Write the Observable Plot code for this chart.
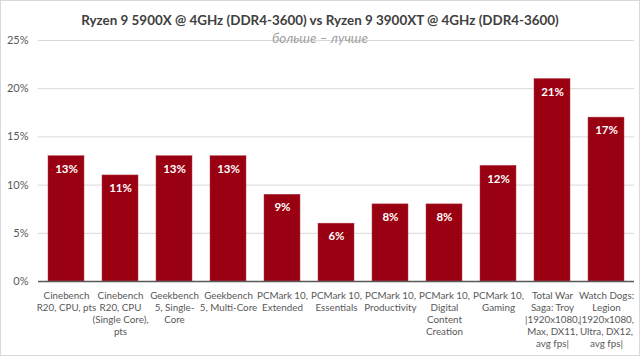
<!DOCTYPE html>
<html>
<head>
<meta charset="utf-8">
<script src="https://cdn.jsdelivr.net/npm/d3@7"></script>
<script src="https://cdn.jsdelivr.net/npm/@observablehq/plot@0.6"></script>
<style>
  html, body { margin: 0; padding: 0; background: #fff; }
  #wrap { position: relative; width: 640px; height: 356px; overflow: hidden; font-family: Lato, "Open Sans", sans-serif; }
  #wrap svg { position: absolute; left: 0; top: 0; }
  #title { position: absolute; left: 0; width: 640px; top: 12px; text-align: center; font-weight: bold; font-size: 13.4px; color: #404040; z-index: 2; }
  #subtitle { position: absolute; left: 0; width: 640px; top: 30px; text-align: center; font-style: italic; font-size: 13.5px; color: #a0a0a0; z-index: 2; }
  #border { position: absolute; left: 0; top: 0; width: 640px; height: 356px; box-sizing: border-box; border: 1px solid #d9d9d9; z-index: 3; pointer-events: none; }
</style>
</head>
<body>
<div id="wrap">
  <div id="title"></div>
  <div id="subtitle"></div>
  <div id="border"></div>
</div>
<script>
const titleText = "Ryzen 9 5900X @ 4GHz (DDR4-3600) vs Ryzen 9 3900XT @ 4GHz (DDR4-3600)";
const subtitleText = "больше – лучше";
const categories = [
  "Cinebench\nR20, CPU, pts",
  "Cinebench\nR20, CPU\n(Single Core),\npts",
  "Geekbench\n5, Single-\nCore",
  "Geekbench\n5, Multi-Core",
  "PCMark 10,\nExtended",
  "PCMark 10,\nEssentials",
  "PCMark 10,\nProductivity",
  "PCMark 10,\nDigital\nContent\nCreation",
  "PCMark 10,\nGaming",
  "Total War\nSaga: Troy\n|1920x1080,\nMax, DX11,\navg fps|",
  "Watch Dogs:\nLegion\n|1920x1080,\nUltra, DX12,\navg fps|"
];
const values = [13, 11, 13, 13, 9, 6, 8, 8, 12, 21, 17];
const yTicks = [0, 5, 10, 15, 20, 25];

document.getElementById("title").textContent = titleText;
document.getElementById("subtitle").textContent = subtitleText;

const data = categories.map((c, i) => ({category: c, value: values[i]}));

const chart = Plot.plot({
  width: 640,
  height: 356,
  marginTop: 40,
  marginBottom: 75,
  marginLeft: 38,
  marginRight: 6,
  style: {fontFamily: "Lato, 'Open Sans', sans-serif", fontSize: "11px", color: "#595959", background: "transparent"},
  x: {domain: categories, paddingInner: 0.33, paddingOuter: 0.165, label: null},
  y: {domain: [0, 25], label: null},
  marks: [
    Plot.gridY(yTicks, {stroke: "#d9d9d9", strokeOpacity: 1, strokeWidth: 1}),
    Plot.axisY(yTicks, {tickSize: 0, tickPadding: 10, tickFormat: d => d + "%", fill: "#595959", fontSize: 11, label: null}),
    Plot.axisX({tickSize: 0, tickPadding: 9, fill: "#595959", fontSize: 9.8, lineHeight: 1.22, label: null}),
    Plot.barY(data, {x: "category", y: "value", fill: "#990011", stroke: "#b5404a", strokeWidth: 0.5}),
    Plot.ruleY([0], {stroke: "#595959", strokeWidth: 1.5}),
    Plot.text(data, {x: "category", y: "value", text: d => d.value + "%", dy: 13, fill: "#ffffff", fontWeight: "bold", fontSize: 11.5})
  ]
});
document.getElementById("wrap").prepend(chart);
</script>
</body>
</html>
